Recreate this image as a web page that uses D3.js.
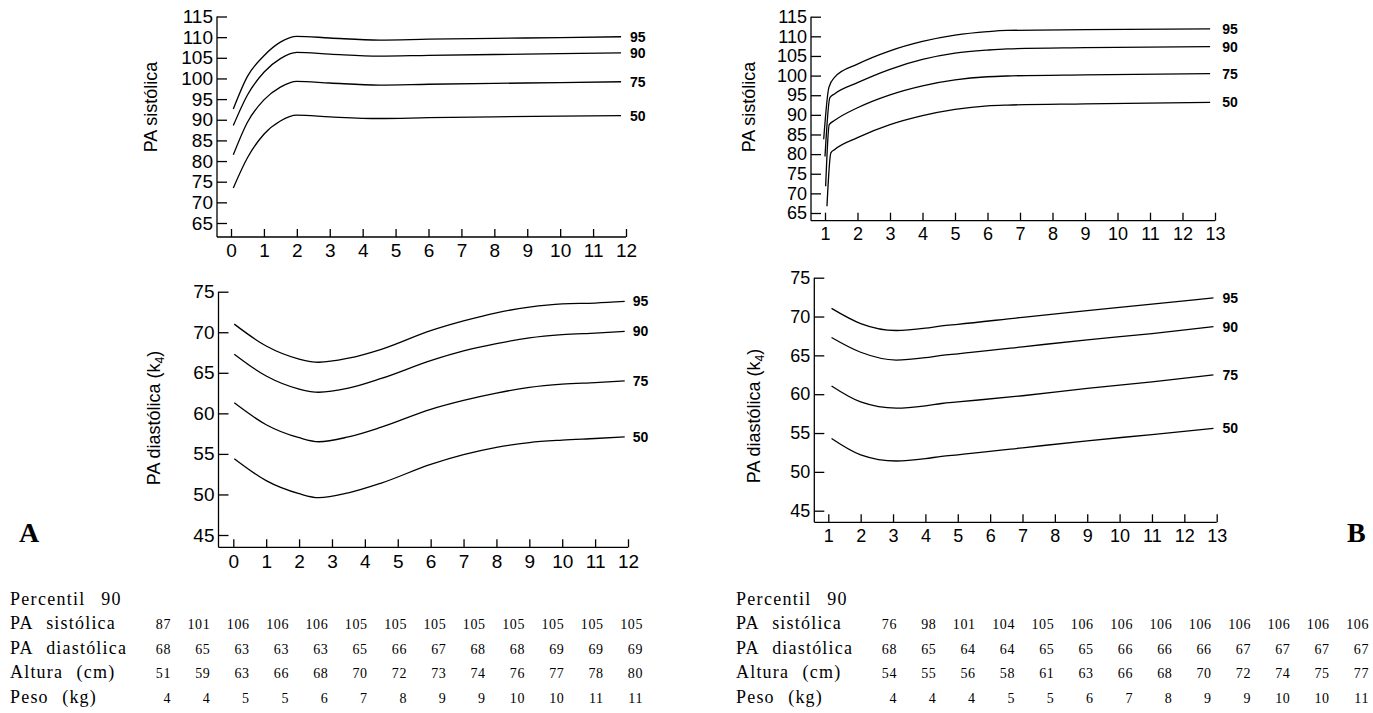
<!DOCTYPE html>
<html>
<head>
<meta charset="utf-8">
<script src="https://cdn.jsdelivr.net/npm/d3@7/dist/d3.min.js"></script>
<style>
  body { margin: 0; background: #fff; }
  svg { display: block; }
</style>
</head>
<body>
<svg id="chart" width="1373" height="713"></svg>
<script>
const percentiles = ["95", "90", "75", "50"];

// A: PA sistólica
const ageA_sys = [0.07, 0.5, 1, 1.5, 2, 3, 4.5, 6, 8, 10, 11.85];
const A_sys95 = [92.6, 100.5, 105.5, 108.8, 110.2, 109.8, 109.3, 109.5, 109.7, 109.9, 110.1];
const A_sys90 = [88.6, 96.0, 101.5, 104.8, 106.3, 105.9, 105.4, 105.6, 105.8, 106.0, 106.2];
const A_sys75 = [81.5, 89.4, 94.8, 97.9, 99.3, 98.9, 98.4, 98.6, 98.8, 99.0, 99.2];
const A_sys50 = [73.5, 80.8, 86.5, 89.7, 91.1, 90.7, 90.3, 90.5, 90.7, 90.9, 91.0];

// A: PA diastólica
const ageA_dia = [0.03, 1, 2, 2.6, 3.5, 4.5, 6, 7, 8, 9, 10, 11, 11.9];
const A_dia95 = [71.0, 68.3, 66.7, 66.3, 66.8, 67.9, 70.2, 71.4, 72.4, 73.1, 73.5, 73.6, 73.8];
const A_dia90 = [67.3, 64.6, 63.0, 62.6, 63.1, 64.3, 66.5, 67.7, 68.6, 69.3, 69.7, 69.9, 70.1];
const A_dia75 = [61.3, 58.6, 57.0, 56.5, 57.1, 58.3, 60.5, 61.6, 62.5, 63.2, 63.6, 63.8, 64.0];
const A_dia50 = [54.4, 51.7, 50.1, 49.6, 50.2, 51.4, 53.7, 54.9, 55.8, 56.4, 56.7, 56.9, 57.1];

// B: PA sistólica (first two ages differ per curve)
const startB_sys = [0.96, 1.0, 1.02, 1.06];
const kinkB_sys = [1.12, 1.15, 1.13, 1.18];
const ageB_sys = [1.3, 2, 3, 4, 5, 6, 6.6, 9, 12.85];
const B_sys95 = [83.8, 97.0, 99.6, 102.9, 106.3, 108.7, 110.3, 111.2, 111.5, 111.7, 111.9];
const B_sys90 = [79.4, 94.4, 95.4, 98.2, 101.6, 104.1, 105.7, 106.5, 106.8, 107.1, 107.4];
const B_sys75 = [71.8, 87.5, 88.6, 91.8, 95.1, 97.4, 98.9, 99.7, 99.9, 100.2, 100.5];
const B_sys50 = [66.7, 80.3, 81.2, 84.2, 87.5, 89.8, 91.4, 92.3, 92.5, 92.8, 93.2];

// B: PA diastólica
const ageB_dia = [1.1, 2, 3.1, 4, 4.5, 5, 7, 9, 11, 12.9];
const B_dia95 = [71.05, 69.1, 68.2, 68.5, 68.8, 69.0, 69.9, 70.75, 71.6, 72.4];
const B_dia90 = [67.3, 65.4, 64.4, 64.7, 65.0, 65.2, 66.1, 67.0, 67.8, 68.7];
const B_dia75 = [61.05, 59.0, 58.2, 58.5, 58.8, 59.0, 59.8, 60.75, 61.6, 62.5];
const B_dia50 = [54.3, 52.2, 51.4, 51.7, 52.0, 52.2, 53.1, 54.0, 54.8, 55.6];

// tables (percentil 90)
const rowLabels = ["PA  sistólica", "PA  diastólica", "Altura  (cm)", "Peso  (kg)"];
const tabA_sys = [87, 101, 106, 106, 106, 105, 105, 105, 105, 105, 105, 105, 105];
const tabA_dia = [68, 65, 63, 63, 63, 65, 66, 67, 68, 68, 69, 69, 69];
const tabA_alt = [51, 59, 63, 66, 68, 70, 72, 73, 74, 76, 77, 78, 80];
const tabA_peso = [4, 4, 5, 5, 6, 7, 8, 9, 9, 10, 10, 11, 11];
const tabB_sys = [76, 98, 101, 104, 105, 106, 106, 106, 106, 106, 106, 106, 106];
const tabB_dia = [68, 65, 64, 64, 65, 65, 66, 66, 66, 67, 67, 67, 67];
const tabB_alt = [54, 55, 56, 58, 61, 63, 66, 68, 70, 72, 74, 75, 77];
const tabB_peso = [4, 4, 4, 5, 5, 6, 7, 8, 9, 9, 10, 10, 11];

const sans = '"Liberation Sans", Arial, Helvetica, sans-serif';
const serif = '"Liberation Serif", "Times New Roman", Times, serif';

const svg = d3.select("#chart");
svg.append("rect").attr("width", 1373).attr("height", 713).attr("fill", "#fff");

const drawPanel = (p) => {
  const x = d3.scaleLinear().domain(p.xDomain).range(p.xRange);
  const y = d3.scaleLinear().domain(p.yDomain).range(p.yRange);
  const g = svg.append("g");

  // axis lines
  g.append("line")
    .attr("x1", p.axisX).attr("x2", p.axisX)
    .attr("y1", y(p.yDomain[1])).attr("y2", p.axisY)
    .attr("stroke", "#000").attr("stroke-width", 1.3);
  g.append("line")
    .attr("x1", p.axisX).attr("x2", x(p.xDomain[1]))
    .attr("y1", p.axisY).attr("y2", p.axisY)
    .attr("stroke", "#000").attr("stroke-width", 1.3);

  const yAxis = d3.axisLeft(y)
    .tickValues(d3.range(p.yDomain[0], p.yDomain[1] + 1, 5))
    .tickSize(-10).tickSizeOuter(0).tickPadding(4);
  g.append("g")
    .attr("transform", `translate(${p.axisX},0)`)
    .call(yAxis)
    .call(a => a.select(".domain").remove())
    .call(a => a.selectAll("line").attr("stroke-width", 1.3))
    .call(a => a.selectAll("text").attr("font-family", sans).attr("font-size", p.fontSize).attr("fill", "#000"));

  const xAxis = d3.axisBottom(x)
    .tickValues(d3.range(p.xDomain[0], p.xDomain[1] + 1, 1))
    .tickSize(-8).tickSizeOuter(0).tickPadding(7);
  g.append("g")
    .attr("transform", `translate(0,${p.axisY})`)
    .call(xAxis)
    .call(a => a.select(".domain").remove())
    .call(a => a.selectAll("line").attr("stroke-width", 1.3))
    .call(a => a.selectAll("text").attr("font-family", sans).attr("font-size", p.fontSize).attr("fill", "#000"));

  const line = d3.line()
    .x(d => x(d[0]))
    .y(d => y(d[1]))
    .curve(d3.curveMonotoneX);

  p.series.forEach((pts, i) => {
    g.append("path")
      .attr("d", line(pts))
      .attr("fill", "none")
      .attr("stroke", "#000")
      .attr("stroke-width", 1.3);
    const last = pts[pts.length - 1];
    g.append("text")
      .attr("x", x(last[0]) + p.labelGap)
      .attr("y", y(last[1]))
      .attr("dy", "0.36em")
      .attr("font-family", sans)
      .attr("font-weight", "bold")
      .attr("font-size", 14)
      .text(percentiles[i]);
  });

  const title = g.append("text")
    .attr("transform", `translate(${p.titleX},${p.titleY}) rotate(-90)`)
    .attr("text-anchor", "middle")
    .attr("dy", "0.35em")
    .attr("font-family", sans)
    .attr("font-size", 18);
  if (p.sub) {
    title.append("tspan").text(p.title);
    title.append("tspan").attr("font-size", 12).attr("dy", 4).text(p.sub);
    title.append("tspan").attr("dy", -4).text(")");
  } else {
    title.text(p.title);
  }
};

const zipAge = (ages, vals) => ages.map((a, i) => [a, vals[i]]);
const bSys = [B_sys95, B_sys90, B_sys75, B_sys50].map((vals, i) =>
  zipAge([startB_sys[i], kinkB_sys[i]].concat(ageB_sys), vals));

drawPanel({
  axisX: 217, axisY: 237, xDomain: [0, 12], xRange: [231, 626],
  yDomain: [65, 115], yRange: [223, 16.5], fontSize: 19, labelGap: 9,
  titleX: 151, titleY: 107, title: "PA sistólica",
  series: [A_sys95, A_sys90, A_sys75, A_sys50].map(v => zipAge(ageA_sys, v))
});
drawPanel({
  axisX: 218.5, axisY: 547.3, xDomain: [0, 12], xRange: [233.3, 628],
  yDomain: [45, 75], yRange: [535, 291.7], fontSize: 19, labelGap: 8,
  titleX: 154, titleY: 418, title: "PA diastólica (k", sub: "4",
  series: [A_dia95, A_dia90, A_dia75, A_dia50].map(v => zipAge(ageA_dia, v))
});
drawPanel({
  axisX: 811, axisY: 220.7, xDomain: [1, 13], xRange: [825, 1215],
  yDomain: [65, 115], yRange: [213, 16.7], fontSize: 18, labelGap: 12,
  titleX: 749, titleY: 107, title: "PA sistólica",
  series: bSys
});
drawPanel({
  axisX: 814.3, axisY: 522.3, xDomain: [1, 13], xRange: [828.3, 1216.7],
  yDomain: [45, 75], yRange: [510.7, 277.7], fontSize: 18, labelGap: 9,
  titleX: 754, titleY: 416, title: "PA diastólica (k", sub: "4",
  series: [B_dia95, B_dia90, B_dia75, B_dia50].map(v => zipAge(ageB_dia, v))
});

// panel letters
svg.append("text").attr("x", 19).attr("y", 542)
  .attr("font-family", serif).attr("font-weight", "bold").attr("font-size", 28).text("A");
svg.append("text").attr("x", 1347).attr("y", 542)
  .attr("font-family", serif).attr("font-weight", "bold").attr("font-size", 28).text("B");

const drawTable = (left, colRange, rows) => {
  const col = d3.scalePoint().domain(d3.range(rows[0].length)).range(colRange);
  const row = d3.scalePoint().domain(rowLabels).range([629, 703]);
  const g = svg.append("g");

  g.append("text")
    .attr("x", left).attr("y", 605)
    .attr("font-family", serif).attr("font-size", 18)
    .attr("letter-spacing", 1.3).attr("word-spacing", 2)
    .style("white-space", "pre")
    .text("Percentil  90");

  rowLabels.forEach((label, r) => {
    g.append("text")
      .attr("x", left).attr("y", row(label))
      .attr("font-family", serif).attr("font-size", 18)
      .attr("letter-spacing", 1.2).attr("word-spacing", 1)
      .style("white-space", "pre")
      .text(label);
    g.selectAll(null)
      .data(rows[r])
      .enter()
      .append("text")
      .attr("x", (d, i) => col(i))
      .attr("y", row(label))
      .attr("text-anchor", "end")
      .attr("font-family", serif)
      .attr("font-size", 14)
      .attr("letter-spacing", 0.6)
      .text(d => d);
  });
};

drawTable(10, [171, 643], [tabA_sys, tabA_dia, tabA_alt, tabA_peso]);
drawTable(736, [897, 1369], [tabB_sys, tabB_dia, tabB_alt, tabB_peso]);
</script>
</body>
</html>
